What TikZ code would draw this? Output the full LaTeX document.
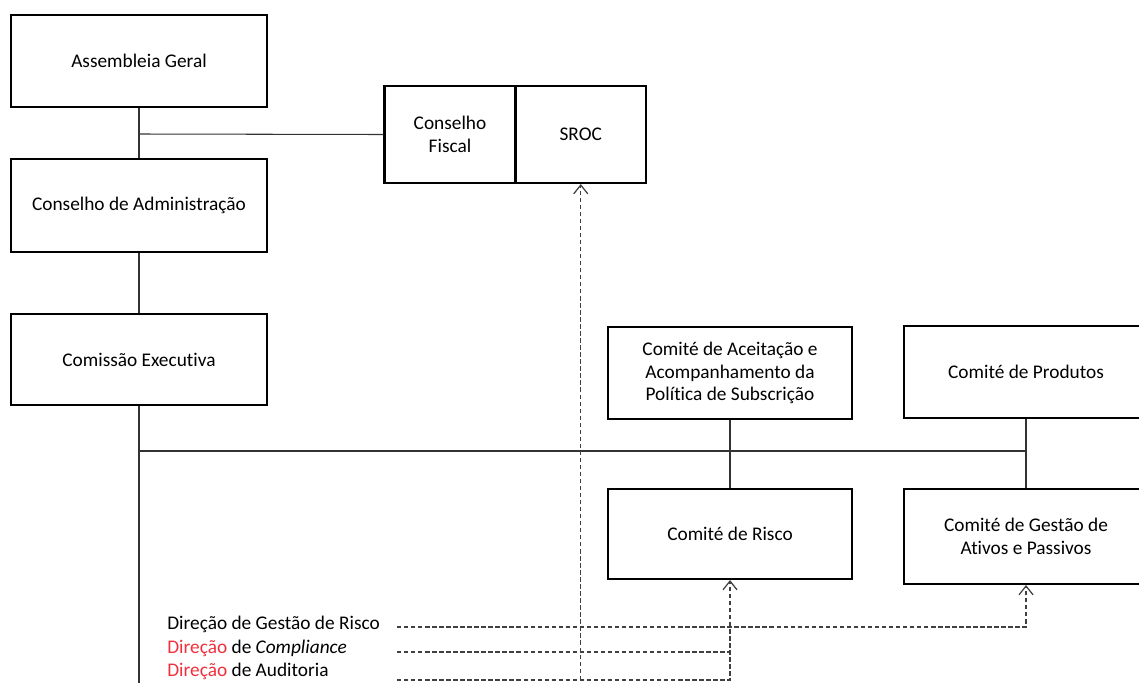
\documentclass[tikz,border=0pt]{standalone}
\usepackage{fontspec}
\setmainfont{Carlito}[Ligatures=NoCommon]
\usepackage{tikz}
\usetikzlibrary{arrows.meta}
\definecolor{dirred}{RGB}{240,48,60}
\tikzset{
	orgbox/.style={draw,line width=1.2pt,inner sep=0pt,align=center,font=\fontsize{11pt}{13pt}\selectfont},
	link/.style={line width=0.6pt,black!80},
	dashlink/.style={line width=0.7pt,black!75,dash pattern=on 2.5pt off 1.5pt},
	barb/.style={-{Straight Barb[length=5pt,width=8pt]}},
	dirtext/.style={anchor=base west,inner sep=0pt,font=\fontsize{11pt}{13pt}\selectfont}
}

\begin{document}
\begin{tikzpicture}[x=0.02cm,y=-0.02cm]
	\clip (0,0) rectangle (1139,683);
	% orgaos sociais
	\node[orgbox,minimum width=5.12cm,minimum height=1.84cm] (ag) at (139,61) {Assembleia Geral};
	\node[orgbox,minimum width=5.12cm,minimum height=1.86cm] (ca) at (139,205.5) {Conselho de Administração};
	\node[orgbox,minimum width=5.12cm,minimum height=1.82cm] (ce) at (139,359.5) {Comissão Executiva};
	\node[orgbox,minimum width=2.62cm,minimum height=1.94cm] (cf) at (450,134.5) {Conselho\\Fiscal};
	\node[orgbox,minimum width=2.61cm,minimum height=1.94cm] (sroc) at (580.75,134.5) {SROC};
	% comites
	\node[orgbox,minimum width=4.88cm,minimum height=1.84cm] (cac) at (730,373) {Comité de Aceitação e\\Acompanhamento da\\Política de Subscrição};
	\node[orgbox,minimum width=4.88cm,minimum height=1.84cm] (cp) at (1026,372) {Comité de Produtos};
	\node[orgbox,minimum width=4.88cm,minimum height=1.8cm] (cr) at (730,534) {Comité de Risco};
	\node[orgbox,minimum width=4.88cm,minimum height=1.9cm] (cg) at (1026,536.5) {Comité de Gestão de\\Ativos e Passivos};
	% direcoes
	\node[dirtext] (dgr) at (167,629) {Direção de Gestão de Risco};
	\node[dirtext] (dcomp) at (167,653) {\textcolor{dirred}{Direção} de \textit{Compliance}};
	\node[dirtext] (daud) at (167,676) {\textcolor{dirred}{Direção} de Auditoria};

	\coordinate (agcf) at (139,134);
	\coordinate (bus0) at (139,451);
	\coordinate (bus1) at (1026,451);
	\coordinate (cebot) at (139,683);
	\coordinate (gr0) at (397,627);
	\coordinate (co0) at (397,652);
	\coordinate (au0) at (397,680);

	\draw[link] (ag.south) -- (ca.north);
	\draw[link] (agcf) -- (cf.west);
	\draw[link] (ca.south) -- (ce.north);
	\draw[link] (ce.south) -- (cebot);
	\draw[link] (bus0) -- (bus1);
	\draw[link] (cac.south) -- (cr.north);
	\draw[link] (cp.south) -- (cg.north);

	\draw[dashlink,barb] (gr0) -| (cg.south);
	\draw[dashlink] (co0) -- (co0 -| cr.south);
	\draw[dashlink,barb] (au0) -| (cr.south);
	\draw[dashlink,barb] (au0 -| sroc.south) -- (sroc.south);
\end{tikzpicture}
\end{document}
